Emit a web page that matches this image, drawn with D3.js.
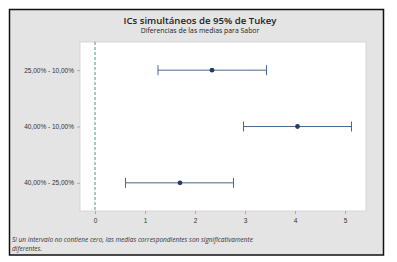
<!DOCTYPE html>
<html>
<head>
<meta charset="utf-8">
<script src="https://cdn.jsdelivr.net/npm/d3@7"></script>
<style>
  body { margin: 0; background: #fff; }
  svg { display: block; font-family: "Open Sans", "Noto Sans", sans-serif; }
  .tick text { fill: #333; font-size: 6.5px; }
  .tick line { stroke: #aaa; }
  .domain { display: none; }
</style>
</head>
<body>
<svg id="chart" width="397" height="262"></svg>
<script>
// Tukey pairwise comparisons (difference of means, 95% simultaneous CI)
const comparisons = ["25,00% - 10,00%", "40,00% - 10,00%", "40,00% - 25,00%"];
const diffs = [2.34, 4.05, 1.70];
const lowers = [1.26, 2.97, 0.61];
const uppers = [3.43, 5.13, 2.77];
const xTicks = [0, 1, 2, 3, 4, 5];

const svg = d3.select("#chart");

// outer frame + gray panel
svg.append("rect").attr("x", 9.5).attr("y", 9.5).attr("width", 374).attr("height", 245.5)
  .attr("fill", "#e4e4e4").attr("stroke", "#111").attr("stroke-width", 1.5);

const plot = { left: 80, right: 366, top: 42, bottom: 211 };

svg.append("rect").attr("x", plot.left).attr("y", plot.top)
  .attr("width", plot.right - plot.left).attr("height", plot.bottom - plot.top)
  .attr("fill", "#fff").attr("stroke", "#cfcfcf").attr("stroke-width", 0.8);

const x = d3.scaleLinear().domain([-0.3, 5.42]).range([plot.left, plot.right]);
const y = d3.scalePoint().domain(comparisons).range([plot.top, plot.bottom]).padding(0.5);

// axes
svg.append("g").attr("transform", `translate(0,${plot.bottom})`)
  .call(d3.axisBottom(x).tickValues(xTicks).tickSize(3).tickPadding(4).tickFormat(d3.format("d")));
svg.append("g").attr("transform", `translate(${plot.left},0)`)
  .call(d3.axisLeft(y).tickSize(3).tickPadding(3));

// zero reference line
svg.append("line")
  .attr("x1", x(0)).attr("x2", x(0)).attr("y1", plot.top).attr("y2", plot.bottom)
  .attr("stroke", "#3a8a78").attr("stroke-width", 0.9).attr("stroke-dasharray", "3,2");

// intervals
const rows = comparisons.map((c, i) => ({ c, d: diffs[i], lo: lowers[i], hi: uppers[i] }));
const gRows = svg.append("g").selectAll("g").data(rows).join("g");

gRows.append("line")
  .attr("x1", d => x(d.lo)).attr("x2", d => x(d.hi))
  .attr("y1", d => y(d.c)).attr("y2", d => y(d.c))
  .attr("stroke", "#46698f").attr("stroke-width", 1);
gRows.selectAll(".cap").data(d => [d.lo, d.hi].map(v => ({ v, c: d.c }))).join("line")
  .attr("class", "cap")
  .attr("x1", d => x(d.v)).attr("x2", d => x(d.v))
  .attr("y1", d => y(d.c) - 5).attr("y2", d => y(d.c) + 5)
  .attr("stroke", "#46698f").attr("stroke-width", 1);
gRows.append("circle")
  .attr("cx", d => x(d.d)).attr("cy", d => y(d.c)).attr("r", 2.4)
  .attr("fill", "#1d3f6e");

// titles
svg.append("text").attr("x", 200).attr("y", 23.5).attr("text-anchor", "middle")
  .attr("font-size", 9.6).attr("font-weight", 600).attr("fill", "#222")
  .text("ICs simultáneos de 95% de Tukey");
svg.append("text").attr("x", 200).attr("y", 32.5).attr("text-anchor", "middle")
  .attr("font-size", 6.9).attr("fill", "#222")
  .text("Diferencias de las medias para Sabor");

// footnote
const note = svg.append("text").attr("font-size", 6.5).attr("font-style", "italic").attr("fill", "#333");
note.append("tspan").attr("x", 12).attr("y", 242)
  .text("Si un intervalo no contiene cero, las medias correspondientes son significativamente");
note.append("tspan").attr("x", 12).attr("y", 251).text("diferentes.");
</script>
</body>
</html>
